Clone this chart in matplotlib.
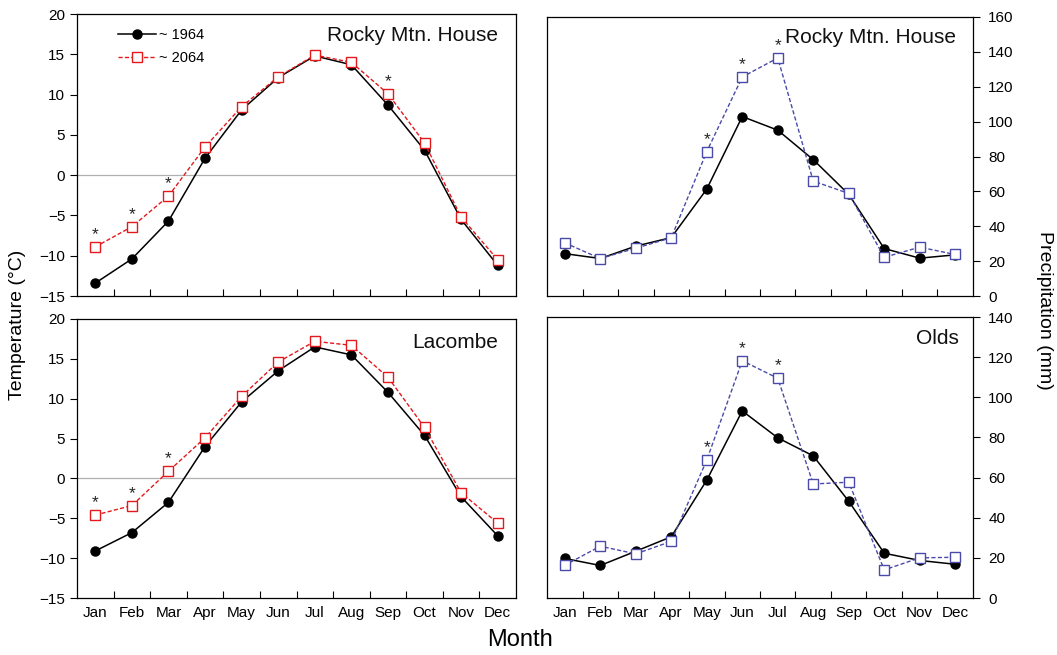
import matplotlib
matplotlib.use("Agg")
import matplotlib.pyplot as plt
from matplotlib.ticker import FixedLocator

plt.rcParams['font.family'] = ['Liberation Sans', 'DejaVu Sans']

# ==========================================
# DATOS
# ==========================================
meses = ['Jan', 'Feb', 'Mar', 'Apr', 'May', 'Jun', 'Jul', 'Aug', 'Sep', 'Oct', 'Nov', 'Dec']

# Temperatura (°C) - Rocky Mtn. House
temp_rocky_1964 = [-13.4, -10.4, -5.7, 2.1, 8.1, 12.1, 14.8, 13.7, 8.7, 3.1, -5.5, -11.2]
temp_rocky_2064 = [-8.9, -6.4, -2.6, 3.5, 8.5, 12.2, 14.9, 14.0, 10.1, 4.0, -5.2, -10.5]
sig_temp_rocky = [0, 1, 2, 8]

# Temperatura (°C) - Lacombe
temp_lacombe_1964 = [-9.1, -6.8, -3.0, 4.0, 9.6, 13.5, 16.5, 15.5, 10.8, 5.4, -2.3, -7.2]
temp_lacombe_2064 = [-4.6, -3.4, 0.9, 5.1, 10.3, 14.6, 17.2, 16.7, 12.7, 6.4, -1.8, -5.6]
sig_temp_lacombe = [0, 1, 2]

# Precipitación (mm) - Rocky Mtn. House
prec_rocky_1964 = [24.3, 21.5, 28.6, 33.5, 61.3, 102.9, 95.1, 78.2, 58.3, 27.2, 21.7, 23.6]
prec_rocky_2064 = [30.5, 21.5, 27.4, 33.4, 82.8, 125.6, 136.5, 65.9, 58.8, 22.2, 28.0, 23.8]
sig_prec_rocky = [4, 5, 6]

# Precipitación (mm) - Olds
prec_olds_1964 = [19.7, 16.2, 23.3, 30.5, 58.7, 93.2, 79.8, 70.8, 48.2, 22.3, 18.7, 16.8]
prec_olds_2064 = [16.3, 25.8, 22.0, 28.2, 68.7, 118.2, 109.5, 56.8, 57.7, 14.0, 20.0, 20.3]
sig_prec_olds = [4, 5, 6]

W, H = 1057, 655
fig = plt.figure(figsize=(W / 100, H / 100), dpi=100)

def _ejes(px_left, px_top, px_right, px_bottom):
    return fig.add_axes([px_left / W, 1 - px_bottom / H,
                         (px_right - px_left) / W, (px_bottom - px_top) / H])

ax_tl = _ejes(77, 14, 516, 296)
ax_tr = _ejes(547, 17, 973, 296)
ax_bl = _ejes(77, 319, 516, 598)
ax_br = _ejes(547, 317, 973, 598)

x = list(range(len(meses)))

def _panel(ax, serie_a, serie_b, sig, color_b, titulo, ylim, yticks, derecha, etiquetas_x, linea_cero, tit_pos):
    ax.plot(x, serie_a, color='black', lw=1.1, marker='o', ms=6.5, mfc='black', mec='black',
            label='~ 1964', zorder=3)
    ax.plot(x, serie_b, color=color_b, lw=1.0, ls=(0, (3, 1.6)), marker='s', ms=7,
            mfc='white', mec=color_b, mew=1.0, label='~ 2064', zorder=4)
    if linea_cero:
        ax.axhline(0, color='#b0b0b0', lw=0.9, zorder=1)
    for i in sig:
        ax.annotate('*', (x[i], serie_b[i]), xytext=(0, 3.5), textcoords='offset points',
                    ha='center', va='bottom', fontsize=12.5, color='#222')
    ax.set_xlim(-0.5, 11.5)
    ax.set_ylim(*ylim)
    ax.set_yticks(yticks)
    ax.xaxis.set_major_locator(FixedLocator(x))
    ax.xaxis.set_minor_locator(FixedLocator([i + 0.5 for i in x[:-1]]))
    ax.tick_params(axis='x', which='major', length=0, pad=6, labelsize=11)
    ax.tick_params(axis='x', which='minor', direction='in', length=5, width=0.8)
    ax.tick_params(axis='y', direction='out', length=5, width=0.8, labelsize=11)
    if etiquetas_x:
        ax.set_xticklabels(meses)
    else:
        ax.set_xticklabels([])
    if derecha:
        ax.yaxis.tick_right()
        ax.tick_params(axis='y', pad=6)
    for s in ax.spines.values():
        s.set_linewidth(0.9)
    ax.text(tit_pos[0], tit_pos[1], titulo, transform=ax.transAxes, ha='right', va='center',
            fontsize=15, color='#111')

rojo = '#e3191c'
azul = '#4a4aa8'

_panel(ax_tl, temp_rocky_1964, temp_rocky_2064, sig_temp_rocky, rojo, 'Rocky Mtn. House',
       (-15, 20), range(-15, 21, 5), False, False, True, (0.960, 0.925))
_panel(ax_bl, temp_lacombe_1964, temp_lacombe_2064, sig_temp_lacombe, rojo, 'Lacombe',
       (-15, 20), range(-15, 21, 5), False, True, True, (0.960, 0.915))
_panel(ax_tr, prec_rocky_1964, prec_rocky_2064, sig_prec_rocky, azul, 'Rocky Mtn. House',
       (0, 160), range(0, 161, 20), True, False, False, (0.960, 0.925))
_panel(ax_br, prec_olds_1964, prec_olds_2064, sig_prec_olds, azul, 'Olds',
       (0, 140), range(0, 141, 20), True, True, False, (0.967, 0.925))

# Leyenda solo en el primer panel
ax_tl.legend(loc='upper left', bbox_to_anchor=(0.07, 0.985), frameon=False, fontsize=10.5,
             handlelength=2.6, handletextpad=0.2, labelspacing=0.6, borderaxespad=0.3)

# Etiquetas globales
fig.text(18 / W, 1 - 325 / H, 'Temperature (°C)', rotation=90, ha='center', va='center', fontsize=14)
fig.text(1044 / W, 1 - 310 / H, 'Precipitation (mm)', rotation=-90, ha='center', va='center', fontsize=14)
fig.text(520 / W, 1 - 640 / H, 'Month', ha='center', va='center', fontsize=17)

fig.savefig('out.png', dpi=100)
